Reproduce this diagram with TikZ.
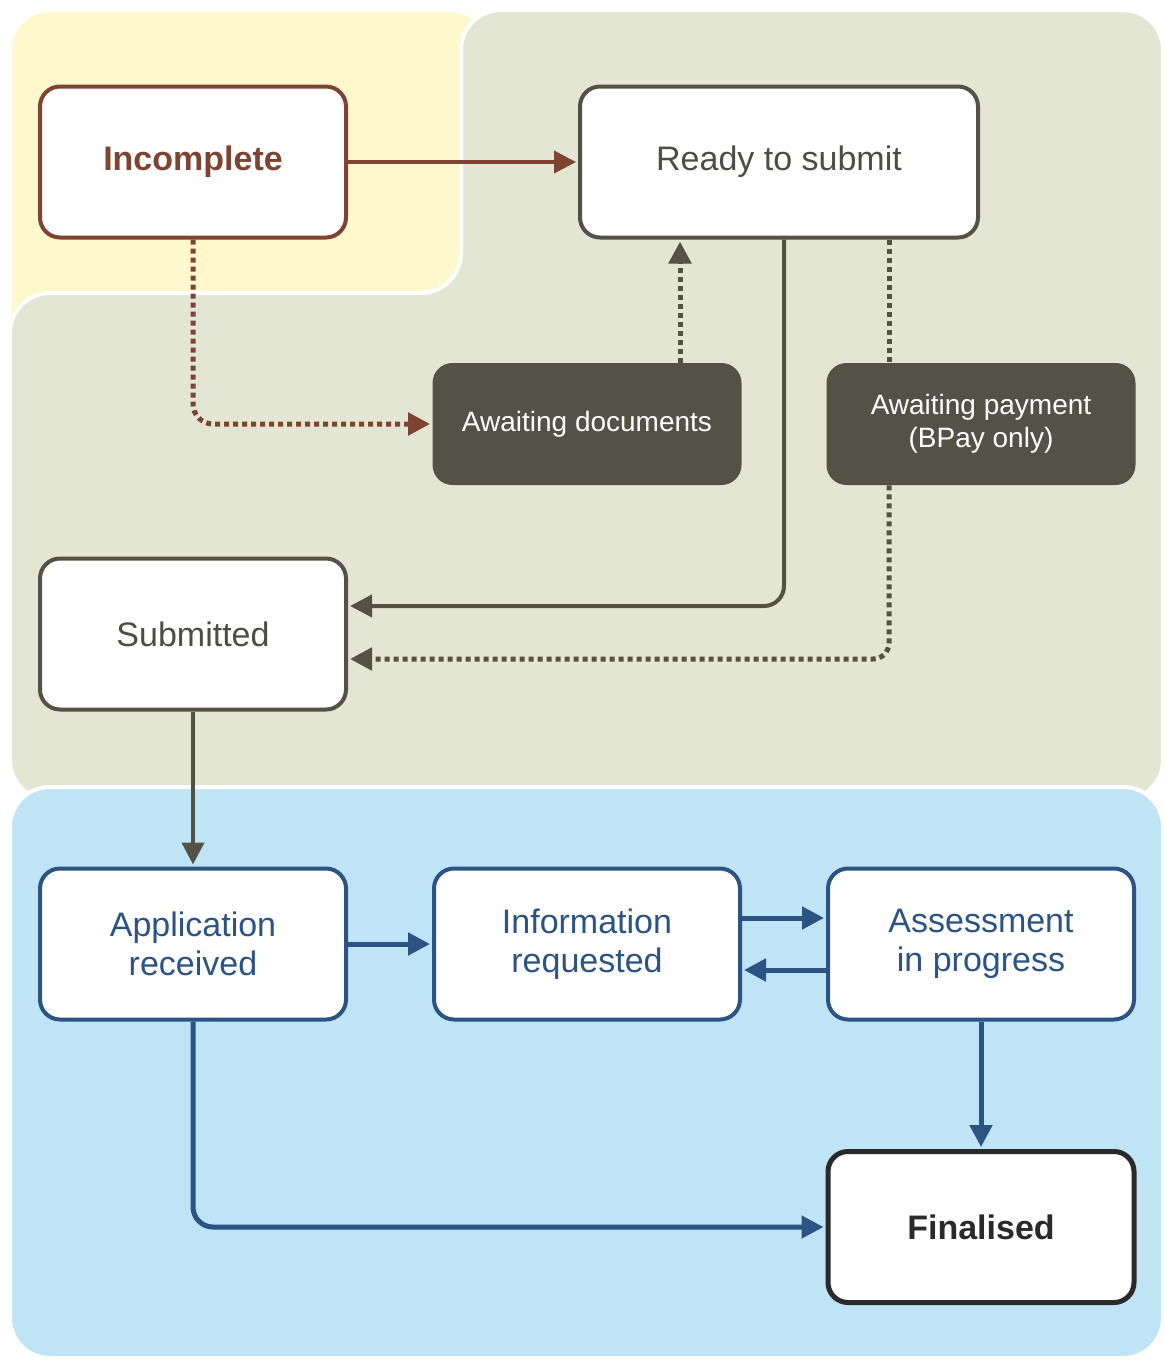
\documentclass[tikz,border=0pt]{standalone}
\usepackage{fontspec}
\setmainfont{Liberation Sans}
\usepackage{tikz}
\usetikzlibrary{positioning, arrows.meta}

\definecolor{bgyellow}{HTML}{FFF8CC}
\definecolor{bggreen}{HTML}{E3E6D2}
\definecolor{bgblue}{HTML}{BEE4F6}
\definecolor{brownline}{HTML}{7E4431}
\definecolor{darkline}{HTML}{545247}
\definecolor{greytext}{HTML}{4D4D47}
\definecolor{blueline}{HTML}{2B5383}
\definecolor{finalline}{HTML}{2A2A2A}

\begin{document}
\begin{tikzpicture}[>={Triangle[length=11pt,width=11pt]},auto,x=1pt,y=1pt]
\tikzstyle{box}=[rectangle,rounded corners=10pt,draw,line width=2pt,fill=white,minimum width=153pt,minimum height=75.5pt,
                 align=center,font=\fontsize{17pt}{19.5pt}\selectfont]
\tikzstyle{darkbox}=[rectangle,rounded corners=10pt,fill=darkline,text=white,minimum width=154.5pt,minimum height=61pt,
                 align=center,font=\fontsize{14pt}{16.5pt}\selectfont]
\tikzstyle{region}=[line width=2pt,draw=white,rounded corners=20pt]
\tikzstyle{dots}=[line width=2.5pt,dash pattern=on 2.5pt off 2pt]
\tikzset{link/.style={->,shorten >=1pt,line width=2pt,rounded corners=10pt}}

        \useasboundingbox (0,0) rectangle (582.5,-680.5);

        % background regions
        \path[region,fill=bgyellow] (5,-5) rectangle (245,-185);
        \path[region,fill=bggreen] (5,-400) -- (5,-146.5) -- (230.5,-146.5) -- (230.5,-5) -- (581.5,-5) -- (581.5,-400) -- cycle;
        \path[region,fill=bgblue] (5,-393.5) rectangle (581.5,-679);

        % states
        \node[box,draw=brownline,text=brownline,font=\fontsize{17pt}{19.5pt}\selectfont\bfseries]   (incomplete) at (96.5,-81)     {Incomplete};
        \node[box,draw=darkline,text=greytext,minimum width=199pt]    (ready)      [right of=incomplete, node distance=293pt]  {Ready to submit};
        \node[box,draw=darkline,text=greytext]                        (submitted)  [below of=incomplete, node distance=236pt] {Submitted};
        \node[box,draw=blueline,text=blueline]                        (received)   [below of=submitted, node distance=155pt]  {Application\\received};
        \node[box,draw=blueline,text=blueline]                        (requested)  [right of=received, node distance=197pt]   {Information\\requested};
        \node[box,draw=blueline,text=blueline]                        (assessment) [right of=requested, node distance=197pt]  {Assessment\\in progress};
        \node[box,draw=finalline,line width=2.5pt,text=finalline,font=\fontsize{17pt}{19.5pt}\selectfont\bfseries]
                                                                      (finalised)  [below of=assessment, node distance=141.5pt] {Finalised};
        \node[darkbox]                                                (documents)  [above of=requested, node distance=260pt]  {Awaiting documents};
        \node[darkbox]                                                (payment)    [above of=assessment, node distance=260pt] {Awaiting payment\\(BPay only)};

        % connectors
        \path[link,color=brownline]
        (incomplete)   edge node {}    (ready)
        ; %end path
        \draw[link,dots,color=brownline] (incomplete.south) |- (documents.west);

        \draw[link,dots,color=darkline] ([xshift=46.5pt]documents.north) -- ([xshift=46.5pt]documents.north |- ready.south);
        \draw[link,color=darkline] ([xshift=2.5pt]ready.south) |- ([yshift=14pt]submitted.east);
        \draw[dots,color=darkline] ([xshift=55pt]ready.south) -- ([xshift=55pt]ready.south |- payment.north);
        \draw[link,dots,color=darkline,rounded corners=8pt] ([xshift=-46pt]payment.south) |- ([yshift=-12.5pt]submitted.east);

        \path[link,color=darkline]
        (submitted)    edge node {}    (received)
        ; %end path

        \path[link,color=blueline,line width=2.5pt]
        (received)     edge node {}    (requested)
        ([yshift=13pt]requested.east)   edge node {}   ([yshift=13pt]assessment.west)
        ([yshift=-13pt]assessment.west) edge node {}   ([yshift=-13pt]requested.east)
        (assessment)   edge node {}    (finalised)
        ; %end path
        \draw[link,color=blueline,line width=2.5pt] (received.south) |- (finalised.west);

\end{tikzpicture}
\end{document}
